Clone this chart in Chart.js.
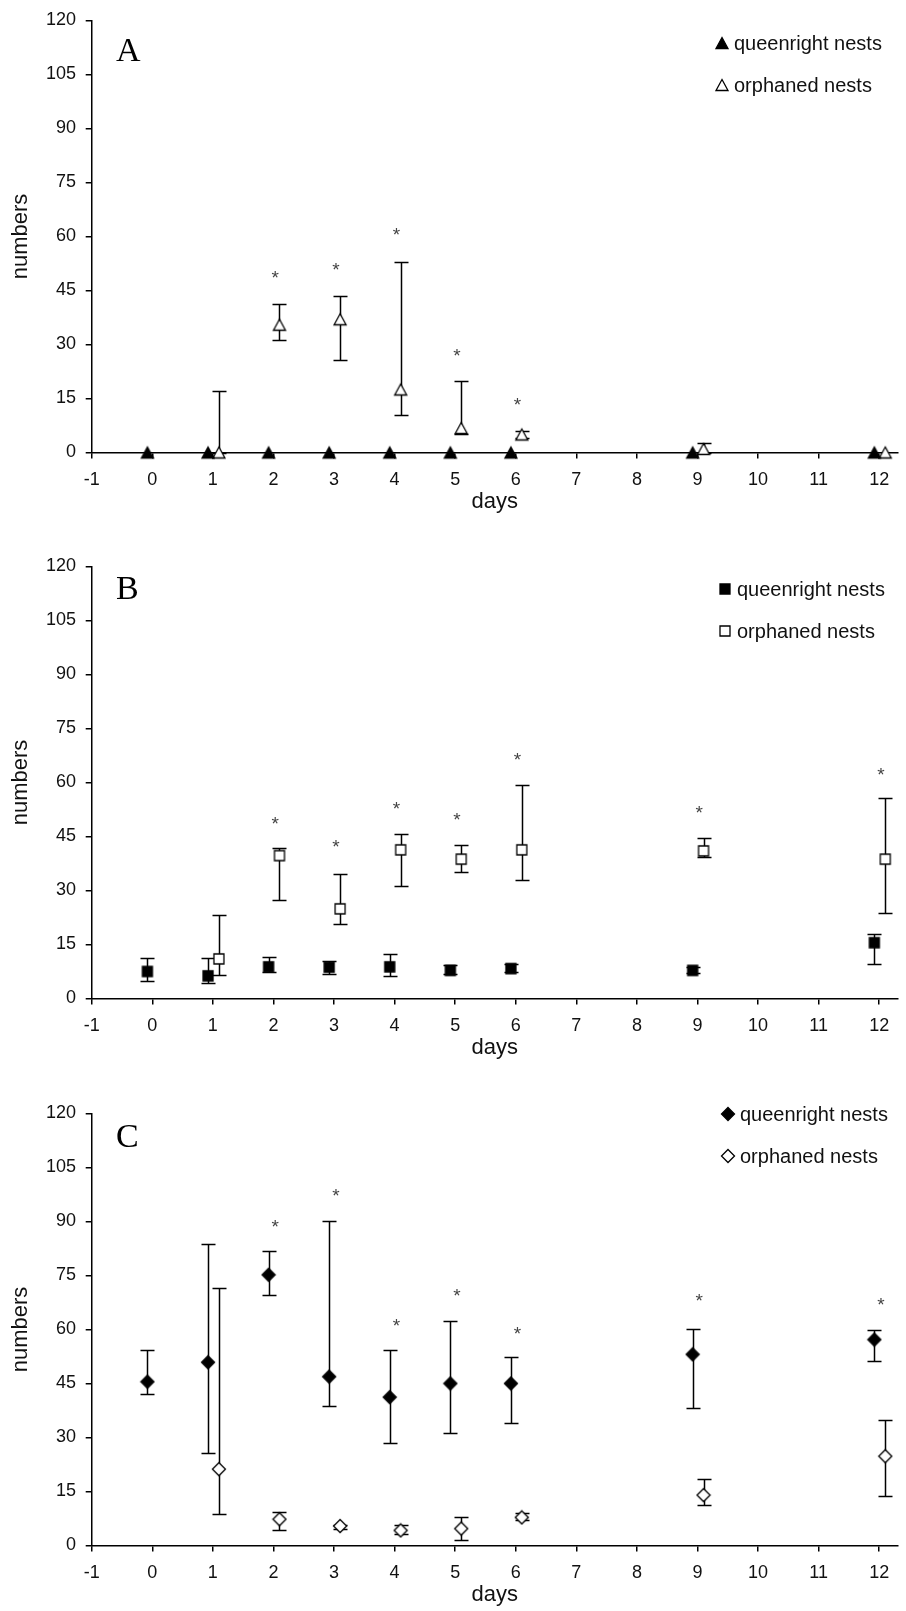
<!DOCTYPE html>
<html>
<head>
<meta charset="utf-8">
<script src="https://cdn.jsdelivr.net/npm/chart.js@4.4.0/dist/chart.umd.min.js"></script>
<style>
  html, body { margin: 0; padding: 0; background: #fff; overflow: hidden; }
  .panel { position: absolute; left: 0; }
</style>
</head>
<body>
<canvas id="chartA" class="panel" width="906" height="546" style="top:0px"></canvas>
<canvas id="chartB" class="panel" width="906" height="546" style="top:546px"></canvas>
<canvas id="chartC" class="panel" width="906" height="546" style="top:1093px"></canvas>
<script>
// days sampled
const queenDays = [0, 1, 2, 3, 4, 5, 6, 9, 12];
const orphanDays = [1, 2, 3, 4, 5, 6, 9, 12];
const yTicks = [0, 15, 30, 45, 60, 75, 90, 105, 120];

// panel A
const aQueen = [0, 0, 0, 0, 0, 0, 0, 0, 0];
const aOrphan = [0, 35.5, 37, 17.5, 6.8, 5, 1, 0];
const aOrphanHi = [17, 41.3, 43.5, 53, 19.8, 6, 2.7, null];
const aOrphanLo = [0, 31.2, 25.8, 10.5, 5.2, 4, 0, null];
const aStarDays = [2, 3, 4, 5, 6];
const aStars = [49.8, 52, 61.8, 28.2, 14.6];

// panel B
const bQueen = [7.5, 6.3, 8.8, 8.7, 8.8, 7.8, 8.3, 7.8, 15.5];
const bQueenHi = [11.3, 11.2, 11.5, 10.3, 12.3, 9.2, 9.5, 8.8, 18];
const bQueenLo = [5, 4.3, 7.5, 6.8, 6.3, 6.9, 7.3, 7, 9.7];
const bOrphan = [11, 39.7, 24.9, 41.3, 38.7, 41.3, 41, 38.7];
const bOrphanHi = [23.3, 41.8, 34.6, 45.6, 42.6, 59.3, 44.7, 55.7];
const bOrphanLo = [6.5, 27.5, 20.8, 31.2, 35.1, 32.9, 39.2, 23.7];
const bStarDays = [2, 3, 4, 5, 6, 9, 12];
const bStars = [49.8, 43.5, 53.9, 51, 67.7, 53, 63.6];

// panel C
const cQueen = [45.5, 50.9, 75.2, 46.9, 41.2, 45, 45, 53.1, 57.2];
const cQueenHi = [54.3, 83.8, 81.8, 90.2, 54.3, 62.3, 52.3, 60.2, 59.8];
const cQueenLo = [42.1, 25.6, 69.5, 38.7, 28.6, 31.2, 34.1, 38.3, 51.3];
const cOrphan = [21.2, 7.3, 5.4, 4.2, 4.7, 7.8, 14, 24.8];
const cOrphanHi = [71.6, 9.3, 5.8, 5.6, 7.8, 8.9, 18.5, 34.9];
const cOrphanLo = [8.8, 4.2, 4.5, 3.2, 1.5, 7, 11.2, 13.8];
const cStarDays = [2, 3, 4, 5, 6, 9, 12];
const cStars = [90, 98.5, 62.3, 70.6, 60.2, 69.4, 68.2];

const SANS = '"Liberation Sans", Arial, sans-serif';
const SERIF = '"Liberation Serif", "Times New Roman", serif';

function makeMarker(shape, filled) {
  const c = document.createElement('canvas');
  c.width = 16;
  c.height = 16;
  const g = c.getContext('2d');
  g.beginPath();
  if (shape === 'triangle') {
    g.moveTo(8, 2.5); g.lineTo(14, 13.5); g.lineTo(2, 13.5);
  } else if (shape === 'square') {
    g.rect(3, 3, 10, 10);
  } else {
    g.moveTo(8, 1.5); g.lineTo(14.5, 8); g.lineTo(8, 14.5); g.lineTo(1.5, 8);
  }
  g.closePath();
  g.fillStyle = filled ? '#000' : '#fff';
  g.fill();
  g.lineWidth = 1.3;
  g.strokeStyle = '#000';
  g.stroke();
  return c;
}

function points(days, vals, shift) {
  return days.map((d, i) => ({ x: d + shift, y: vals[i] }));
}

// vertical error bars with caps, under the markers
const errorBars = {
  id: 'errorBars',
  beforeDatasetsDraw(chart) {
    const { ctx, scales: { x, y } } = chart;
    ctx.save();
    ctx.strokeStyle = '#000';
    ctx.lineWidth = 1.5;
    chart.data.datasets.forEach(ds => {
      if (!ds.hi) return;
      ds.data.forEach((p, i) => {
        if (ds.hi[i] == null) return;
        const px = Math.round(x.getPixelForValue(p.x)) + 0.5;
        const top = Math.round(y.getPixelForValue(ds.hi[i])) + 0.5;
        const bot = Math.round(y.getPixelForValue(ds.lo[i])) + 0.5;
        ctx.beginPath();
        ctx.moveTo(px, top); ctx.lineTo(px, bot);
        ctx.moveTo(px - 7, top); ctx.lineTo(px + 7, top);
        ctx.moveTo(px - 7, bot); ctx.lineTo(px + 7, bot);
        ctx.stroke();
      });
    });
    ctx.restore();
  }
};

// significance asterisks, panel letter and legend
const decor = {
  id: 'decor',
  afterDraw(chart, args, opts) {
    const { ctx, scales: { x, y } } = chart;
    ctx.save();
    ctx.fillStyle = '#444';
    ctx.font = '19px ' + SANS;
    ctx.textAlign = 'center';
    ctx.textBaseline = 'alphabetic';
    opts.starDays.forEach((d, i) => {
      ctx.fillText('*', x.getPixelForValue(d + 0.03), y.getPixelForValue(opts.stars[i]) + 11);
    });

    ctx.fillStyle = '#000';
    ctx.font = '34px ' + SERIF;
    ctx.textAlign = 'left';
    ctx.fillText(opts.letter, 116, opts.letterY);

    ctx.font = '20px ' + SANS;
    ctx.textBaseline = 'middle';
    chart.data.datasets.forEach((ds, i) => {
      const ly = opts.legendY + i * 42;
      ctx.drawImage(ds.pointStyle, opts.legendX - 8, ly - 8);
      ctx.fillStyle = '#111';
      ctx.fillText(ds.label, opts.legendX + 12, ly + 1);
    });
    ctx.restore();
  }
};

function makeChart(id, shape, queen, queenHi, queenLo, orphan, orphanHi, orphanLo, deco) {
  const axisFont = { family: SANS, size: 18 };
  const titleFont = { family: SANS, size: 22 };
  new Chart(document.getElementById(id), {
    type: 'scatter',
    data: {
      datasets: [
        {
          label: 'queenright nests',
          data: points(queenDays, queen, -0.08),
          hi: queenHi,
          lo: queenLo,
          pointStyle: makeMarker(shape, true),
          pointRadius: 7,
          clip: false
        },
        {
          label: 'orphaned nests',
          data: points(orphanDays, orphan, 0.1),
          hi: orphanHi,
          lo: orphanLo,
          pointStyle: makeMarker(shape, false),
          pointRadius: 7,
          clip: false
        }
      ]
    },
    options: {
      responsive: false,
      animation: false,
      events: [],
      layout: { padding: { top: 19, left: 0, right: 0, bottom: 0 } },
      plugins: {
        legend: { display: false },
        tooltip: { enabled: false },
        decor: deco
      },
      scales: {
        x: {
          type: 'linear',
          min: -1,
          max: 12.31,
          border: { color: '#000', width: 1.5 },
          grid: { drawOnChartArea: false, drawTicks: true, tickLength: 6, color: '#000', lineWidth: 1.5 },
          ticks: { stepSize: 1, autoSkip: false, includeBounds: false, maxRotation: 0, color: '#111', font: axisFont, padding: 10.7 },
          title: { display: true, text: 'days', color: '#111', font: titleFont, padding: { top: 0, bottom: 30.8 } },
          afterFit: s => { s.height = 93.5; }
        },
        y: {
          min: 0,
          max: 120,
          border: { color: '#000', width: 1.5 },
          grid: { drawOnChartArea: false, drawTicks: true, tickLength: 6, color: '#000', lineWidth: 1.5 },
          ticks: { stepSize: 15, color: '#111', font: axisFont, padding: 9.7 },
          afterBuildTicks: s => { s.ticks = yTicks.map(v => ({ value: v })); },
          title: { display: true, text: 'numbers', color: '#111', font: titleFont, padding: { top: 7.8, bottom: 0 } },
          afterFit: s => { s.width = 91.7; }
        }
      }
    },
    plugins: [errorBars, decor]
  });
}

makeChart('chartA', 'triangle', aQueen, null, null, aOrphan, aOrphanHi, aOrphanLo,
  { starDays: aStarDays, stars: aStars, letter: 'A', letterY: 61, legendX: 722, legendY: 43 });
makeChart('chartB', 'square', bQueen, bQueenHi, bQueenLo, bOrphan, bOrphanHi, bOrphanLo,
  { starDays: bStarDays, stars: bStars, letter: 'B', letterY: 53, legendX: 725, legendY: 43 });
makeChart('chartC', 'diamond', cQueen, cQueenHi, cQueenLo, cOrphan, cOrphanHi, cOrphanLo,
  { starDays: cStarDays, stars: cStars, letter: 'C', letterY: 54, legendX: 728, legendY: 21 });
</script>
</body>
</html>
